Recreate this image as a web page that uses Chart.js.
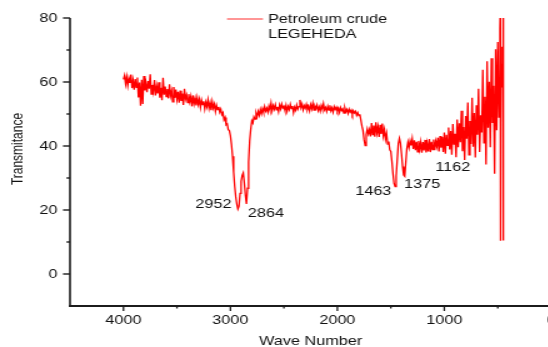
<!DOCTYPE html>
<html>
<head>
<meta charset="utf-8">
<script src="https://cdn.jsdelivr.net/npm/chart.js@4.4.1/dist/chart.umd.min.js"></script>
<style>
  html, body { margin: 0; padding: 0; background: #fff; overflow: hidden; }
  /* the reference plot is a horizontally stretched image, so stretch the canvas the same way */
  #ftirChart { display: block; transform: scaleX(1.25); transform-origin: 0 0; }
</style>
</head>
<body>
<canvas id="ftirChart" width="442" height="347"></canvas>
<script>
// wave numbers (cm-1)
const waveNumbers = [
  4000, 3990, 3980, 3970, 3960, 3950, 3940, 3930, 3920, 3910,
  3900, 3890, 3880, 3870, 3860, 3850, 3840, 3830, 3820, 3810,
  3800, 3790, 3780, 3770, 3760, 3750, 3740, 3730, 3720, 3710,
  3700, 3690, 3680, 3670, 3660, 3650, 3640, 3630, 3620, 3610,
  3600, 3590, 3580, 3570, 3560, 3550, 3540, 3530, 3520, 3510,
  3500, 3490, 3480, 3470, 3460, 3450, 3440, 3430, 3420, 3410,
  3400, 3390, 3380, 3370, 3360, 3350, 3340, 3330, 3320, 3310,
  3300, 3290, 3280, 3270, 3260, 3250, 3240, 3230, 3220, 3210,
  3200, 3190, 3180, 3170, 3160, 3150, 3140, 3130, 3120, 3110,
  3100, 3090, 3080, 3070, 3060, 3050, 3040, 3030, 3020, 3010,
  3000, 2990, 2980, 2970, 2960, 2950, 2940, 2930, 2920, 2910,
  2900, 2890, 2880, 2870, 2860, 2850, 2840, 2830, 2820, 2810,
  2800, 2790, 2780, 2770, 2760, 2750, 2740, 2730, 2720, 2710,
  2700, 2690, 2680, 2670, 2660, 2650, 2640, 2630, 2620, 2610,
  2600, 2590, 2580, 2570, 2560, 2550, 2540, 2530, 2520, 2510,
  2500, 2490, 2480, 2470, 2460, 2450, 2440, 2430, 2420, 2410,
  2400, 2390, 2380, 2370, 2360, 2350, 2340, 2330, 2320, 2310,
  2300, 2290, 2280, 2270, 2260, 2250, 2240, 2230, 2220, 2210,
  2200, 2190, 2180, 2170, 2160, 2150, 2140, 2130, 2120, 2110,
  2100, 2090, 2080, 2070, 2060, 2050, 2040, 2030, 2020, 2010,
  2000, 1990, 1980, 1970, 1960, 1950, 1940, 1930, 1920, 1910,
  1900, 1890, 1880, 1870, 1860, 1850, 1840, 1830, 1820, 1810,
  1800, 1790, 1780, 1770, 1760, 1750, 1740, 1730, 1720, 1710,
  1700, 1690, 1680, 1670, 1660, 1650, 1640, 1630, 1620, 1610,
  1600, 1590, 1580, 1570, 1560, 1550, 1540, 1530, 1520, 1510,
  1500, 1490, 1480, 1470, 1460, 1450, 1440, 1430, 1420, 1410,
  1400, 1390, 1380, 1370, 1360, 1350, 1340, 1330, 1320, 1310,
  1300, 1290, 1280, 1270, 1260, 1250, 1240, 1230, 1220, 1210,
  1200, 1190, 1180, 1170, 1160, 1150, 1140, 1130, 1120, 1110,
  1100, 1090, 1080, 1070, 1060, 1050, 1040, 1030, 1020, 1010,
  1000, 990, 980, 970, 960, 950, 940, 930, 920, 910,
  900, 890, 880, 870, 860, 850, 840, 830, 820, 810,
  800, 790, 780, 770, 760, 750, 740, 730, 720, 710,
  700, 690, 680, 670, 660, 650, 640, 630, 620, 610,
  600, 590, 580, 570, 560, 550, 540, 530, 520, 510,
  500, 490, 480, 477, 475, 473, 465, 458, 452, 449,
  447
];

// transmittance (%), same order as waveNumbers
const transmittance = [
  60.8, 62.0, 59.4, 61.6, 58.9, 61.2, 59.7, 62.3, 58.1, 60.5,
  57.6, 60.9, 58.3, 61.4, 55.2, 59.8, 52.6, 60.7, 53.1, 61.9,
  57.4, 59.6, 56.8, 60.3, 57.9, 62.4, 56.2, 59.1, 57.0, 60.6,
  55.8, 58.7, 56.4, 59.9, 55.1, 58.2, 54.3, 61.3, 56.0, 58.6,
  55.4, 57.8, 54.9, 59.3, 55.7, 57.2, 53.8, 58.4, 55.0, 57.6,
  54.6, 56.9, 53.5, 57.3, 54.1, 56.4, 52.8, 57.9, 54.7, 55.9,
  53.6, 56.2, 53.9, 55.5, 52.4, 55.8, 53.2, 54.9, 52.7, 55.1,
  53.0, 54.6, 52.1, 54.3, 52.9, 54.0, 51.6, 53.7, 52.3, 54.4,
  51.8, 53.5, 51.2, 53.9, 51.9, 53.1, 50.8, 52.7, 51.4, 52.2,
  50.6, 51.5, 49.8, 50.4, 48.2, 48.9, 46.6, 46.9, 45.1, 44.8,
  43.2, 40.5, 36.8, 31.9, 27.4, 24.1, 21.8, 20.3, 21.2, 25.2,
  29.0, 30.8, 31.6, 28.4, 24.6, 21.9, 26.8, 35.0, 41.6, 45.2,
  47.9, 47.2, 49.1, 48.4, 50.3, 49.2, 50.8, 49.6, 51.4, 50.1,
  51.7, 50.5, 52.3, 50.9, 51.8, 50.6, 52.5, 51.2, 53.4, 51.0,
  52.6, 51.5, 52.9, 51.3, 52.2, 50.7, 52.8, 51.6, 53.1, 51.9,
  52.4, 51.1, 52.7, 50.8, 52.3, 51.4, 53.0, 51.7, 52.5, 50.4,
  52.1, 51.2, 52.8, 51.5, 52.3, 54.4, 52.0, 53.1, 51.3, 52.6,
  51.8, 53.0, 51.4, 52.4, 51.0, 52.9, 51.6, 53.3, 51.2, 52.5,
  51.7, 52.8, 51.1, 52.2, 50.9, 52.6, 51.5, 53.2, 51.3, 52.0,
  50.8, 52.4, 51.2, 52.7, 51.0, 51.9, 50.6, 52.3, 51.4, 52.1,
  50.9, 51.8, 50.5, 52.0, 51.1, 51.6, 50.3, 51.9, 50.7, 51.4,
  50.2, 51.5, 50.6, 51.2, 49.9, 51.0, 50.3, 50.8, 49.6, 50.4,
  49.5, 49.9, 48.1, 46.2, 44.8, 41.9, 40.1, 43.6, 45.3, 43.8,
  45.1, 43.0, 47.2, 43.6, 46.4, 42.9, 47.4, 44.1, 46.0, 42.8,
  46.6, 43.8, 47.0, 43.2, 45.1, 42.1, 43.9, 40.6, 41.4, 38.8,
  38.3, 35.2, 31.4, 28.3, 27.3, 30.6, 35.8, 40.7, 42.4, 40.9,
  37.6, 33.6, 30.9, 30.5, 35.0, 39.2, 41.2, 39.5, 41.6, 40.2,
  42.3, 39.1, 41.8, 38.7, 41.3, 38.2, 41.6, 39.0, 41.2, 37.9,
  41.2, 38.6, 41.9, 38.0, 40.8, 38.3, 42.2, 38.1, 41.3, 38.9,
  42.0, 38.7, 41.5, 39.9, 42.6, 38.3, 43.1, 39.5, 42.8, 38.1,
  44.2, 37.6, 43.5, 40.2, 45.8, 38.9, 44.7, 37.3, 46.9, 40.4,
  43.8, 36.5, 48.3, 39.6, 47.1, 41.2, 51.0, 38.4, 45.9, 35.6,
  49.4, 42.3, 53.6, 37.2, 47.8, 40.6, 55.1, 39.8, 50.3, 36.4,
  52.7, 43.5, 57.9, 38.1, 49.6, 44.2, 63.8, 41.0, 55.4, 34.2,
  66.5, 45.7, 60.1, 39.6, 67.4, 47.2, 58.8, 31.3, 70.2, 44.9,
  72.5, 49.0, 76.8, 82.0, 10.4, 66.0, 58.5, 71.0, 47.5, 82.0,
  10.5
];

// peak labels and where they sit (wave number, transmittance)
const peakLabels = ['2952', '2864', '1463', '1375', '1162'];
const peakLabelWave = [3159, 2668, 1664, 1206, 921];
const peakLabelT = [21.6, 18.9, 25.8, 28.1, 33.3];

const seriesName = ['Petroleum crude', 'LEGEHEDA'];
const xTitle = 'Wave Number';
const yTitle = 'Transmitance';

const FONT = "'Liberation Sans', Arial, sans-serif";

// axis lines, tick marks, legend, titles and peak labels
const decorations = {
  id: 'decorations',
  afterDraw(chart) {
    const { ctx, chartArea: a, scales: { x, y } } = chart;
    ctx.save();
    ctx.strokeStyle = '#1c1c1c';

    ctx.lineWidth = 1.6;
    ctx.beginPath();
    ctx.moveTo(a.left, a.top);
    ctx.lineTo(a.left, a.bottom + 1);
    ctx.stroke();
    ctx.lineWidth = 2;
    ctx.beginPath();
    ctx.moveTo(a.left - 0.8, a.bottom);
    ctx.lineTo(chart.width, a.bottom);
    ctx.stroke();

    ctx.lineWidth = 1.4;
    y.ticks.forEach(t => {
      if (t.value === y.min) return;
      const py = y.getPixelForValue(t.value);
      const len = t.value % 20 === 0 ? 5.6 : 2.8;
      ctx.beginPath();
      ctx.moveTo(a.left - len, py);
      ctx.lineTo(a.left, py);
      ctx.stroke();
    });
    ctx.lineWidth = 1.3;
    x.ticks.forEach(t => {
      if (t.value === x.max) return;
      const px = x.getPixelForValue(t.value);
      const len = t.value % 1000 === 0 ? 5 : 2.5;
      ctx.beginPath();
      ctx.moveTo(px, a.bottom);
      ctx.lineTo(px, a.bottom + len);
      ctx.stroke();
    });

    // legend
    ctx.strokeStyle = 'rgba(255, 0, 0, 0.55)';
    ctx.lineWidth = 1.5;
    ctx.beginPath();
    ctx.moveTo(181.6, 19);
    ctx.lineTo(210.4, 19);
    ctx.stroke();
    ctx.fillStyle = '#111';
    ctx.font = '13px ' + FONT;
    ctx.textAlign = 'left';
    ctx.textBaseline = 'middle';
    ctx.fillText(seriesName[0], 214.4, 19);
    ctx.fillText(seriesName[1], 214.4, 34);

    // peak labels
    ctx.textAlign = 'center';
    peakLabels.forEach((txt, i) => {
      ctx.fillText(txt, x.getPixelForValue(peakLabelWave[i]), y.getPixelForValue(peakLabelT[i]));
    });

    // axis titles
    ctx.fillText(xTitle, (a.left + a.right) / 2, 341);
    ctx.font = '12px ' + FONT;
    ctx.translate(14.8, 149);
    ctx.rotate(-Math.PI / 2);
    ctx.fillText(yTitle, 0, 0);
    ctx.restore();
  }
};

const ctx = document.getElementById('ftirChart').getContext('2d');
const ftirChart = new Chart(ctx, {
  type: 'line',
  data: {
    datasets: [{
      label: seriesName.join(' '),
      data: waveNumbers.map((w, i) => ({ x: w, y: transmittance[i] })),
      borderColor: '#ff0000',
      borderWidth: 1.3,
      pointRadius: 0,
      tension: 0,
      fill: false
    }]
  },
  options: {
    responsive: false,
    animation: false,
    devicePixelRatio: 1,
    layout: { padding: { top: 18, right: 1, left: 0, bottom: 0 } },
    plugins: {
      legend: { display: false },
      tooltip: { enabled: false }
    },
    scales: {
      x: {
        type: 'linear',
        reverse: true,
        min: 0,
        max: 4500,
        afterFit: s => { s.height = 41; s.paddingLeft = 0; s.paddingRight = 0; },
        grid: { display: false, drawTicks: false },
        border: { display: false },
        ticks: {
          stepSize: 500,
          autoSkip: false,
          maxRotation: 0,
          padding: 7,
          color: '#111',
          font: { family: FONT, size: 13 },
          callback: v => (v % 1000 === 0 ? v : '')
        }
      },
      y: {
        min: -10,
        max: 80,
        afterFit: s => { s.width = 56; s.paddingTop = 0; s.paddingBottom = 0; },
        grid: { display: false, drawTicks: false },
        border: { display: false },
        ticks: {
          stepSize: 10,
          autoSkip: false,
          padding: 10,
          color: '#111',
          font: { family: FONT, size: 13 },
          callback: v => (v % 20 === 0 ? v : '')
        }
      }
    }
  },
  plugins: [decorations]
});
</script>
</body>
</html>
